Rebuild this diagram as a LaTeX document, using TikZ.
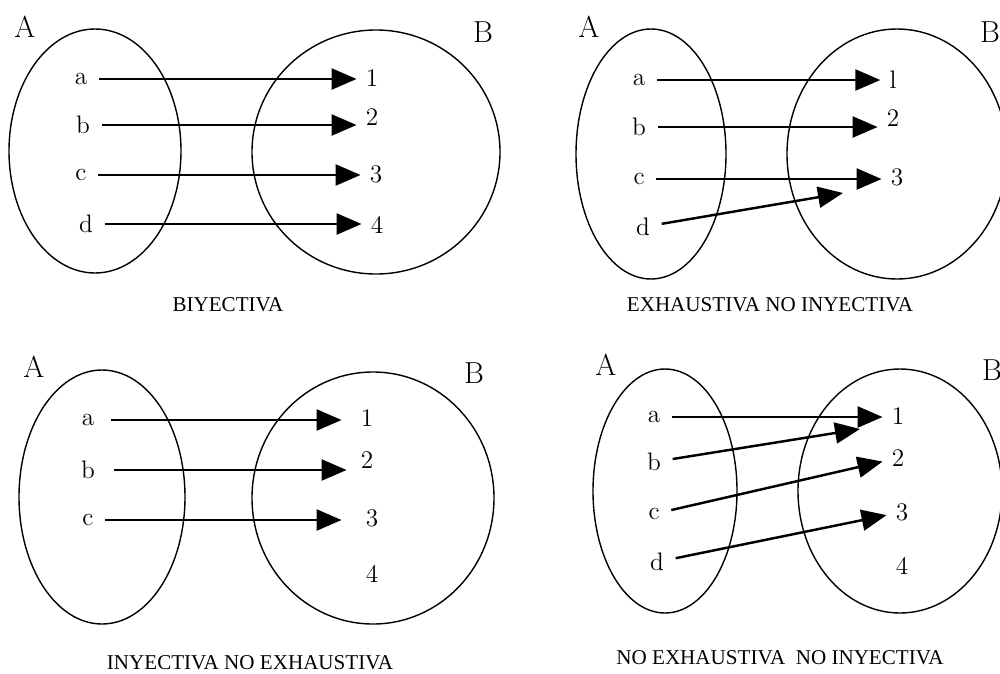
\documentclass[tikz,border=0pt]{standalone}
\usepackage{fontspec}
\usepackage{tikz}
\usetikzlibrary{arrows.meta}
\newfontfamily\rotulo{Liberation Serif}

\begin{document}
\begin{tikzpicture}[x=0.02cm, y=-0.02cm,
    conj/.style={line width=0.8pt},
    flecha/.style={line width=1.4pt, -{Triangle[length=0.5cm, width=0.42cm]}},
    elem/.style={font=\Large, inner sep=1pt, outer sep=0.2cm},
    imagen/.style={font=\Large, inner sep=1pt, outer sep=0.15cm},
    nombre/.style={font=\LARGE},
    titulo/.style={font=\rotulo\fontsize{12}{14}\selectfont}]
    \useasboundingbox (0,0) rectangle (1000,673);

    % biyectiva
    \node[nombre] (q1A) at (25, 27) {A};
    \node[nombre] (q1B) at (483, 32) {B};
    \draw[conj] (95, 151) ellipse [x radius=86, y radius=122];
    \draw[conj] (376, 152) ellipse [x radius=124, y radius=122];
    \node[elem] (q1a) at (81, 79) {a};
    \node[elem] (q1b) at (83, 125) {b};
    \node[elem] (q1c) at (81, 175) {c};
    \node[elem] (q1d) at (86, 224) {d};
    \node[imagen] (q1n1) at (372, 78) {1};
    \node[imagen] (q1n2) at (372, 117) {2};
    \node[imagen] (q1n3) at (376, 174) {3};
    \node[imagen] (q1n4) at (377, 225) {4};
    \draw[flecha] (q1a) -- (q1a -| q1n1.west);
    \draw[flecha] (q1b) -- (q1b -| q1n2.west);
    \draw[flecha] (q1c) -- (q1c -| q1n3.west);
    \draw[flecha] (q1d) -- (q1d -| q1n4.west);
    \node[titulo] (q1t) at (228, 305) {BIYECTIVA};

    % exhaustiva no inyectiva
    \node[nombre] (q2A) at (589, 27) {A};
    \node[nombre] (q2B) at (990, 32) {B};
    \draw[conj] (651, 154) ellipse [x radius=75, y radius=125];
    \draw[conj] (897, 154) ellipse [x radius=110, y radius=125];
    \node[elem] (q2a) at (639, 80) {a};
    \node[elem] (q2b) at (639, 127) {b};
    \node[elem] (q2c) at (639, 179) {c};
    \node[elem] (q2d) at (643, 227) {d};
    \node[imagen] (q2n1) at (893, 80) {l};
    \node[imagen] (q2n2) at (893, 118) {2};
    \node[imagen] (q2n3) at (897, 177) {3};
    \coordinate (q2f) at (843, 193);
    \draw[flecha] (q2a) -- (q2a -| q2n1.west);
    \draw[flecha] (q2b) -- (q2b -| q2n2.west);
    \draw[flecha] (q2c) -- (q2c -| q2n3.west);
    \draw[flecha] (q2d) -- (q2f);
    \node[titulo] (q2t) at (770, 305) {EXHAUSTIVA NO INYECTIVA};

    % inyectiva no exhaustiva
    \node[nombre] (q3A) at (34, 367) {A};
    \node[nombre] (q3B) at (474, 373) {B};
    \draw[conj] (102, 497) ellipse [x radius=83, y radius=127];
    \draw[conj] (373, 498) ellipse [x radius=121, y radius=126];
    \node[elem, outer sep=0.3cm] (q3a) at (88, 420) {a};
    \node[elem, outer sep=0.35cm] (q3b) at (88, 470) {b};
    \node[elem] (q3c) at (88, 520) {c};
    \node[imagen, outer sep=0.35cm] (q3n1) at (367, 418) {1};
    \node[imagen, outer sep=0.25cm] (q3n2) at (367, 460) {2};
    \node[imagen, outer sep=0.45cm] (q3n3) at (372, 518) {3};
    \node[imagen] (q3n4) at (372, 574) {4};
    \draw[flecha] (q3a) -- (q3a -| q3n1.west);
    \draw[flecha] (q3b) -- (q3b -| q3n2.west);
    \draw[flecha] (q3c) -- (q3c -| q3n3.west);
    \node[titulo] (q3t) at (250, 663) {INYECTIVA NO EXHAUSTIVA};

    % no exhaustiva no inyectiva
    \node[nombre] (q4A) at (606, 365) {A};
    \node[nombre] (q4B) at (992, 370) {B};
    \draw[conj] (665, 491) ellipse [x radius=72, y radius=122];
    \draw[conj] (900, 491) ellipse [x radius=102, y radius=122];
    \node[elem] (q4a) at (654, 417) {a};
    \node[elem] (q4b) at (654, 462) {b};
    \node[elem] (q4c) at (654, 514) {c};
    \node[elem] (q4d) at (657, 562) {d};
    \node[imagen] (q4n1) at (898, 416) {1};
    \node[imagen] (q4n2) at (898, 458) {2};
    \node[imagen] (q4n3) at (902, 512) {3};
    \node[imagen] (q4n4) at (902, 566) {4};
    \coordinate (q4f) at (860, 429);
    \draw[flecha] (q4a) -- (q4a -| q4n1.west);
    \draw[flecha] (q4b) -- (q4f);
    \draw[flecha] (q4c) -- (q4n2);
    \draw[flecha] (q4d) -- (q4n3);
    \node[titulo] (q4t) at (780, 658) {NO EXHAUSTIVA\ \ NO INYECTIVA};
\end{tikzpicture}
\end{document}
